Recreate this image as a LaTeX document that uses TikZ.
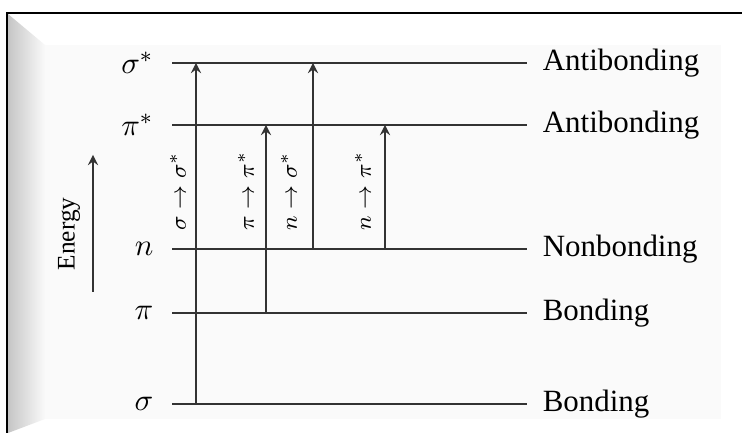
\documentclass[tikz,border=0pt]{standalone}
\usepackage{fontspec}
\setmainfont{Liberation Serif}
\begin{document}
\begin{tikzpicture}[x=0.0125cm,y=0.0125cm,>=stealth,font=\fontsize{11}{13}\selectfont,
	level/.style={line width=0.6pt,black!80},
	trans/.style={->,line width=0.6pt,black!80},
	tlabel/.style={rotate=90,font=\footnotesize}]
	\useasboundingbox (0,0) rectangle (742,433);
	% frame
	\fill[white] (0,0) rectangle (742,433);
	\shade[left color=gray!45,right color=gray!4] (8,0)--(8,419)--(45,388)--(45,14)--cycle;
	\fill[gray!4] (45,14) rectangle (721,388);
	\draw[line width=1pt] (7,0)--(7,420)--(742,420);
	% levels
	\foreach \y/\nm/\lt/\rt in {370/ss/{$\sigma^*$}/Antibonding,308/ps/{$\pi^*$}/Antibonding,184/nb/{$n$}/Nonbonding,120/pb/{$\pi$}/Bonding,29/sb/{$\sigma$}/Bonding}{
		\coordinate (\nm) at (172,\y);
		\draw[level] (\nm) node[left,black,xshift=-3pt] (\nm-l) {\lt} -- (527,\y) node[right,black,xshift=2pt] (\nm-r) {\rt};
	}
	% transitions
	\foreach \x/\f/\t/\lx/\lab in {196/sb/ss/178/{$\sigma\to\sigma^*$},266/pb/ps/246/{$\pi\to\pi^*$},313/nb/ss/289/{$n\to\sigma^*$},385/nb/ps/363/{$n\to\pi^*$}}{
		\coordinate (c\x) at (\x,0);
		\draw[trans] (c\x |- \f) -- (c\x |- \t);
		\node[tlabel] (t\x) at (\lx,242) {\lab};
	}
	% energy axis
	\coordinate (e0) at (93,141);
	\coordinate (e1) at (93,278);
	\draw[trans] (e0) -- (e1);
	\node[rotate=90,font=\small] (en) at (69,199) {Energy};
\end{tikzpicture}
\end{document}
